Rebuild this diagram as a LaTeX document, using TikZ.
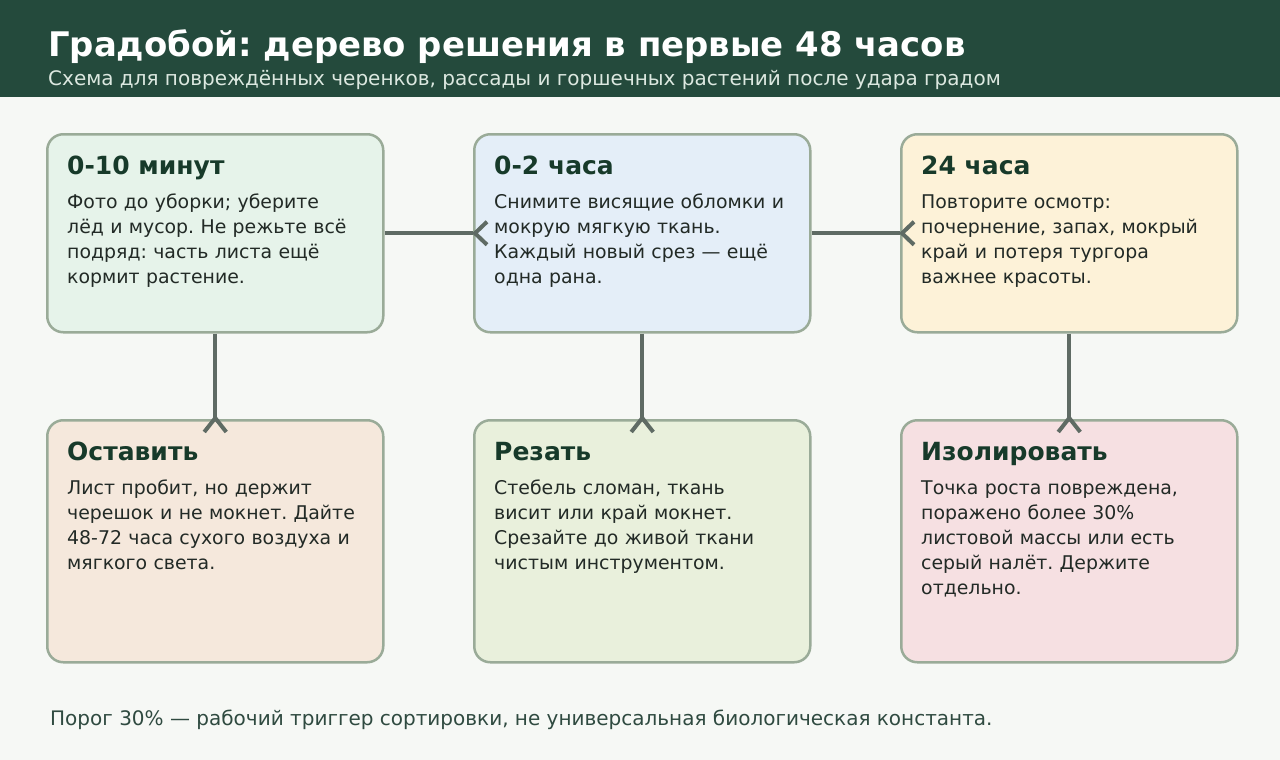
\documentclass[tikz,border=0pt]{standalone}
\usepackage{fontspec}
\setmainfont{DejaVu Sans}
\definecolor{hdr}{HTML}{244A3C}
\definecolor{bg}{HTML}{F6F8F5}
\definecolor{boxline}{HTML}{9AAB98}
\definecolor{headc}{HTML}{173A2A}
\definecolor{bodyc}{HTML}{222A26}
\definecolor{conn}{HTML}{5F6B64}
\definecolor{subc}{HTML}{DCE8E0}
\definecolor{footc}{HTML}{2F4A40}
\definecolor{fA}{HTML}{E6F3EA}
\definecolor{fB}{HTML}{E4EEF8}
\definecolor{fC}{HTML}{FDF2D8}
\definecolor{fD}{HTML}{F5E8DC}
\definecolor{fE}{HTML}{E9F0DC}
\definecolor{fF}{HTML}{F6E0E2}
\tikzset{
  card/.style={draw=boxline, line width=2.5pt, rounded corners=16pt, minimum width=336pt, anchor=north west, inner sep=0pt},
  cardhead/.style={anchor=base west, font=\bfseries\fontsize{25}{29}\selectfont, text=headc, inner sep=0pt},
  cardbody/.style={anchor=base west, align=left, text width=312pt, font=\fontsize{18.9}{25}\selectfont, text=bodyc, inner sep=0pt},
  link/.style={draw=conn, line width=4pt},
}
\begin{document}
\frenchspacing
\begin{tikzpicture}[x=1pt,y=-1pt]
\useasboundingbox (0,0) rectangle (1280,760);
\fill[bg] (0,0) rectangle (1280,760);
\fill[hdr] (0,0) rectangle (1280,97);
\node[anchor=base west, inner sep=0pt, text=white, font=\bfseries\fontsize{33.9}{40}\selectfont] (title) at (48,57) {Градобой: дерево решения в первые 48 часов};
\node[anchor=base west, inner sep=0pt, text=subc, font=\fontsize{20}{24}\selectfont] (subtitle) at (48,85) {Схема для повреждённых черенков, рассады и горшечных растений после удара градом};

% cards
\node[card, fill=fA, minimum height=198pt] (b1) at (46,133) {};
\node[card, fill=fB, minimum height=198pt] (b2) at (473,133) {};
\node[card, fill=fC, minimum height=198pt] (b3) at (900,133) {};
\node[card, fill=fD, minimum height=242pt] (b4) at (46,419) {};
\node[card, fill=fE, minimum height=242pt] (b5) at (473,419) {};
\node[card, fill=fF, minimum height=242pt] (b6) at (900,419) {};

\node[cardhead] (h1) at ([xshift=21pt,yshift=-41pt]b1.north west) {0-10 минут};
\node[cardbody] (t1) at ([xshift=21pt,yshift=-75pt]b1.north west) {Фото до уборки; уберите\\лёд и мусор. Не режьте всё\\подряд: часть листа ещё\\кормит растение.};
\node[cardhead] (h2) at ([xshift=21pt,yshift=-41pt]b2.north west) {0-2 часа};
\node[cardbody] (t2) at ([xshift=21pt,yshift=-75pt]b2.north west) {Снимите висящие обломки и\\мокрую мягкую ткань.\\Каждый новый срез — ещё\\одна рана.};
\node[cardhead] (h3) at ([xshift=21pt,yshift=-41pt]b3.north west) {24 часа};
\node[cardbody] (t3) at ([xshift=21pt,yshift=-75pt]b3.north west) {Повторите осмотр:\\почернение, запах, мокрый\\край и потеря тургора\\важнее красоты.};
\node[cardhead] (h4) at ([xshift=21pt,yshift=-41pt]b4.north west) {Оставить};
\node[cardbody] (t4) at ([xshift=21pt,yshift=-75pt]b4.north west) {Лист пробит, но держит\\черешок и не мокнет. Дайте\\48-72 часа сухого воздуха и\\мягкого света.};
\node[cardhead] (h5) at ([xshift=21pt,yshift=-41pt]b5.north west) {Резать};
\node[cardbody] (t5) at ([xshift=21pt,yshift=-75pt]b5.north west) {Стебель сломан, ткань\\висит или край мокнет.\\Срезайте до живой ткани\\чистым инструментом.};
\node[cardhead] (h6) at ([xshift=21pt,yshift=-41pt]b6.north west) {Изолировать};
\node[cardbody] (t6) at ([xshift=21pt,yshift=-75pt]b6.north west) {Точка роста повреждена,\\поражено более 30\%\\листовой массы или есть\\серый налёт. Держите\\отдельно.};

% connectors
\draw[link] (b1.east) -- (b2.west);
\draw[link] ([shift={(14pt,-11.5pt)}]b2.west) -- ([xshift=2pt]b2.west) -- ([shift={(14pt,11.5pt)}]b2.west);
\draw[link] (b2.east) -- (b3.west);
\draw[link] ([shift={(14pt,-11.5pt)}]b3.west) -- ([xshift=2pt]b3.west) -- ([shift={(14pt,11.5pt)}]b3.west);
\draw[link] (b1.south) -- (b4.north);
\draw[link] ([shift={(-11pt,-13pt)}]b4.north) -- ([yshift=1pt]b4.north) -- ([shift={(11pt,-13pt)}]b4.north);
\draw[link] (b2.south) -- (b5.north);
\draw[link] ([shift={(-11pt,-13pt)}]b5.north) -- ([yshift=1pt]b5.north) -- ([shift={(11pt,-13pt)}]b5.north);
\draw[link] (b3.south) -- (b6.north);
\draw[link] ([shift={(-11pt,-13pt)}]b6.north) -- ([yshift=1pt]b6.north) -- ([shift={(11pt,-13pt)}]b6.north);

\node[anchor=base west, inner sep=0pt, text=footc, font=\fontsize{20}{24}\selectfont] (foot) at (50,725) {Порог 30\% — рабочий триггер сортировки, не универсальная биологическая константа.};
\end{tikzpicture}
\end{document}
